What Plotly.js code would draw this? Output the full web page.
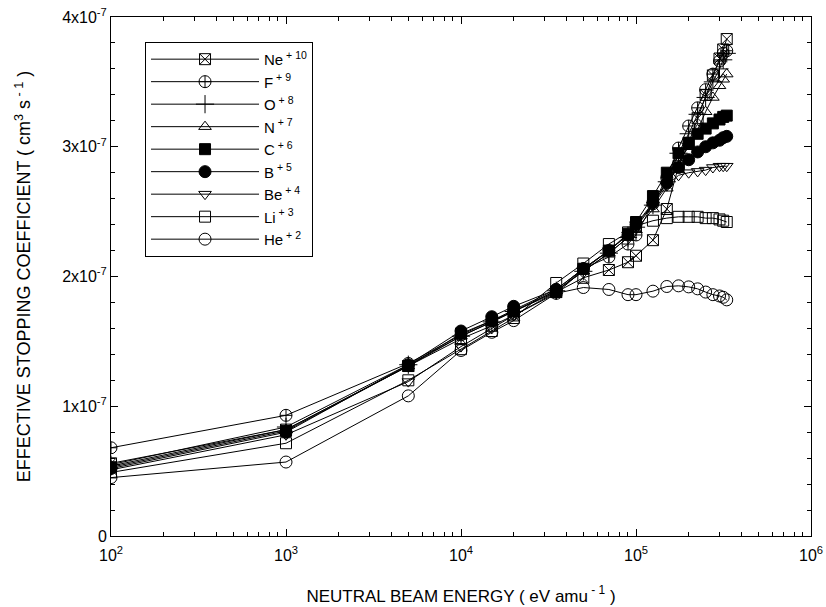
<!DOCTYPE html>
<html>
<head>
<meta charset="utf-8">
<script src="https://cdn.plot.ly/plotly-3.0.1.min.js"></script>
<style>html,body{margin:0;padding:0;background:#fff;}#chart{width:826px;height:607px;}</style>
</head>
<body>
<div id="chart"></div>
<script>
// Beam energy (eV/amu)
const energy = [100, 1000, 5000, 10000, 15000, 20000, 35000, 50000, 70000, 90000, 100000, 125000, 150000, 175000, 200000, 225000, 250000, 275000, 300000, 315000, 330000];
// Effective stopping coefficient, in units of 1e-7 cm^3 s^-1
const ne = [0.56, 0.82, 1.31, 1.52, 1.62, 1.70, 1.88, 1.99, 2.05, 2.11, 2.16, 2.28, 2.52, 2.85, 3.03, 3.22, 3.40, 3.55, 3.68, 3.75, 3.83];
const f  = [0.68, 0.93, 1.33, 1.55, 1.66, 1.74, 1.90, 2.06, 2.15, 2.25, 2.32, 2.56, 2.76, 2.99, 3.16, 3.30, 3.44, 3.56, 3.66, 3.72, 3.74];
const o  = [0.55, 0.84, 1.32, 1.54, 1.65, 1.73, 1.89, 2.04, 2.18, 2.30, 2.38, 2.55, 2.73, 2.95, 3.10, 3.25, 3.38, 3.50, 3.60, 3.67, 3.72];
const n  = [0.54, 0.82, 1.31, 1.54, 1.65, 1.73, 1.89, 2.04, 2.18, 2.30, 2.36, 2.52, 2.68, 2.88, 3.00, 3.13, 3.27, 3.38, 3.47, 3.52, 3.56];
const c  = [0.53, 0.81, 1.31, 1.56, 1.66, 1.73, 1.88, 2.06, 2.20, 2.33, 2.42, 2.62, 2.80, 2.95, 3.03, 3.10, 3.14, 3.18, 3.21, 3.23, 3.24];
const b  = [0.52, 0.80, 1.32, 1.58, 1.69, 1.77, 1.90, 2.06, 2.20, 2.32, 2.40, 2.57, 2.72, 2.84, 2.90, 2.96, 3.00, 3.03, 3.05, 3.07, 3.08];
const be = [0.51, 0.78, 1.19, 1.46, 1.60, 1.70, 1.87, 2.05, 2.20, 2.32, 2.40, 2.55, 2.70, 2.78, 2.80, 2.81, 2.82, 2.84, 2.85, 2.85, 2.85];
const li = [0.49, 0.715, 1.20, 1.44, 1.58, 1.68, 1.95, 2.10, 2.25, 2.34, 2.39, 2.43, 2.45, 2.46, 2.46, 2.46, 2.45, 2.45, 2.44, 2.43, 2.42];
const he = [0.45, 0.57, 1.08, 1.43, 1.57, 1.66, 1.87, 1.915, 1.90, 1.86, 1.86, 1.887, 1.923, 1.928, 1.92, 1.905, 1.88, 1.86, 1.85, 1.84, 1.82];
const UNIT = 1e-7;

const seriesNames = ['Ne<sup> + 10</sup>', 'F<sup> + 9</sup>', 'O<sup> + 8</sup>', 'N<sup> + 7</sup>', 'C<sup> + 6</sup>', 'B<sup> + 5</sup>', 'Be<sup> + 4</sup>', 'Li<sup> + 3</sup>', 'He<sup> + 2</sup>'];
const seriesData = [ne, f, o, n, c, b, be, li, he];
const symbols = ['square-x-open', 'circle-cross-open', 'cross-thin-open', 'triangle-up-open', 'square', 'circle', 'triangle-down-open', 'square-open', 'circle-open'];
const sizes = [11, 12, 13, 11, 11, 12, 11, 11, 12];

const yTickVals = [0, 1, 2, 3, 4];
const yTickText = ['0', '1x10<sup>-7</sup>', '2x10<sup>-7</sup>', '3x10<sup>-7</sup>', '4x10<sup>-7</sup>'];
const xTickVals = [1e2, 1e3, 1e4, 1e5, 1e6];
const xTickText = ['10<sup>2</sup>', '10<sup>3</sup>', '10<sup>4</sup>', '10<sup>5</sup>', '10<sup>6</sup>'];

const traces = seriesData.map((vals, i) => ({
  x: energy,
  y: vals.map(v => v * UNIT),
  name: seriesNames[i],
  type: 'scatter',
  mode: 'lines+markers',
  line: {color: '#000', width: 1},
  marker: {symbol: symbols[i], size: sizes[i], color: '#000', line: {color: '#000', width: 1}}
}));

const font = {family: 'Liberation Sans, Arial, sans-serif', color: '#000'};
const layout = {
  width: 826, height: 607,
  paper_bgcolor: '#fff', plot_bgcolor: '#fff',
  margin: {l: 111, r: 15, t: 17, b: 71},
  font: Object.assign({size: 14}, font),
  showlegend: true,
  legend: {
    x: 0.0486, y: 0.952, xanchor: 'left', yanchor: 'top',
    bgcolor: '#fff', bordercolor: '#000', borderwidth: 1,
    font: Object.assign({size: 15}, font),
    itemwidth: 108
  },
  xaxis: {
    type: 'log', range: [2, 6],
    tickvals: xTickVals, ticktext: xTickText,
    ticks: 'inside', ticklen: 7, tickwidth: 1, tickcolor: '#000',
    ticklabelstandoff: 5,
    minor: {ticks: 'inside', ticklen: 4, tickcolor: '#000', dtick: 'D1', showgrid: false},
    showline: true, linecolor: '#000', linewidth: 1, mirror: 'allticks',
    showgrid: false, zeroline: false,
    tickfont: Object.assign({size: 16}, font),
    title: {text: 'NEUTRAL BEAM ENERGY ( eV amu<sup> - 1</sup> )', font: Object.assign({size: 17}, font), standoff: 26}
  },
  yaxis: {
    range: [0, 4e-7],
    tickvals: yTickVals.map(v => v * UNIT), ticktext: yTickText,
    ticks: 'inside', ticklen: 7, tickwidth: 1, tickcolor: '#000',
    minor: {ticks: 'inside', ticklen: 4, tickcolor: '#000', tick0: 0, dtick: 2e-8, showgrid: false},
    showline: true, linecolor: '#000', linewidth: 1, mirror: 'allticks',
    showgrid: false, zeroline: false,
    tickfont: Object.assign({size: 16}, font),
    title: {text: 'EFFECTIVE STOPPING COEFFICIENT ( cm<sup>3</sup> s<sup> - 1</sup> )', font: Object.assign({size: 18}, font), standoff: 26}
  }
};

Plotly.newPlot('chart', traces, layout, {displayModeBar: false, staticPlot: true});
</script>
</body>
</html>
